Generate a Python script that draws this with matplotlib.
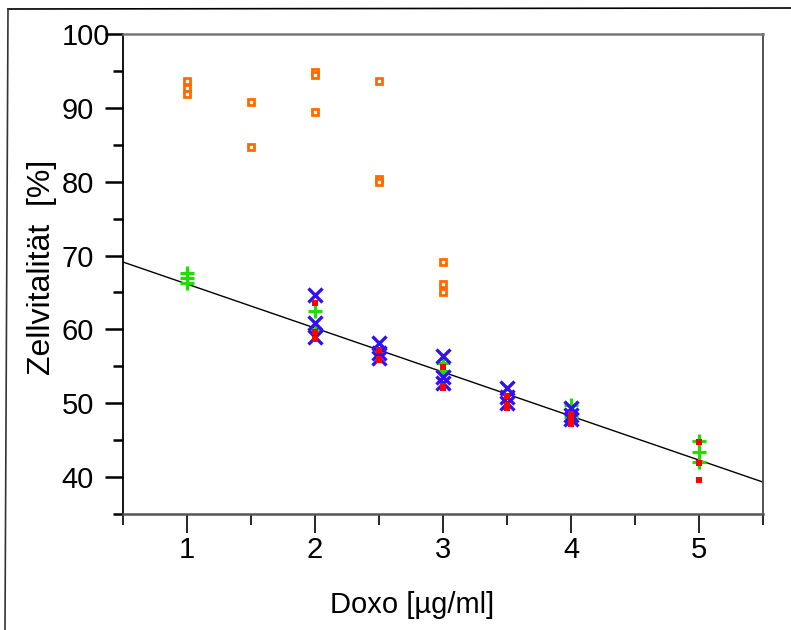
import matplotlib
matplotlib.use("Agg")
import matplotlib.pyplot as plt
import matplotlib.transforms as mtransforms
from matplotlib.lines import Line2D
import numpy as np

plt.rcParams['font.family'] = ['Liberation Sans', 'DejaVu Sans']

# ---- data ----
orange_x = [1, 1, 1, 1.5, 1.5, 2, 2, 2, 2.5, 2.5, 2.5, 3, 3, 3]
orange_y = [93.7, 92.7, 91.9, 90.8, 84.7, 94.8, 94.4, 89.4, 93.7, 80.3, 79.9, 69.1, 66.2, 65.1]

red_x = [2, 2, 2, 2.5, 2.5, 2.5, 3, 3, 3, 3.5, 3.5, 3.5, 4, 4, 4, 5, 5, 5]
red_y = [63.6, 59.7, 58.7, 57.2, 56.0, 55.8, 54.9, 52.4, 52.0, 51.0, 49.7, 49.4, 48.6, 47.8, 47.2, 44.7, 41.9, 39.6]

blue_x = [2, 2, 2, 2.5, 2.5, 2.5, 3, 3, 3, 3.5, 3.5, 3.5, 4, 4, 4]
blue_y = [64.6, 60.8, 59.0, 58.2, 56.8, 56.1, 56.4, 53.6, 52.8, 52.0, 50.9, 50.0, 49.3, 48.4, 47.8]

green_x = [1, 1, 1, 2, 2, 3, 3, 4, 4, 5, 5, 5]
green_y = [67.6, 67.0, 66.3, 62.5, 59.9, 55.5, 54.3, 49.8, 48.2, 44.9, 43.4, 42.1]

fit_slope = -5.96
fit_intercept = 72.1

x_major = [1, 2, 3, 4, 5]
y_major = [40, 50, 60, 70, 80, 90, 100]

# ---- figure ----
fig = plt.figure(figsize=(7.91, 6.30), dpi=100)
ax = fig.add_axes([123/791, 116/630, 640/791, 480/630])

xs = np.array([0.5, 5.5])
ax.plot(xs, fit_intercept + fit_slope * xs, color='black', lw=1.0, zorder=2)

ax.plot(orange_x, orange_y, ls='none', marker='s', ms=4.2, mew=2.0,
        mfc='white', mec='#FF6A00', zorder=3)
ax.plot(green_x, green_y, ls='none', marker='+', ms=10.5, mew=2.3,
        color='#22DD00', zorder=3)
ax.plot(blue_x, blue_y, ls='none', marker='x', ms=9.5, mew=2.4,
        color='#3311EE', zorder=4)
ax.plot(red_x, red_y, ls='none', marker='s', ms=4.3, mew=0,
        color='#FF0000', zorder=5)

ax.set_xlim(0.5, 5.5)
ax.set_ylim(35, 100)
ax.set_xticks(x_major)
ax.set_xticklabels([str(v) for v in x_major])
ax.set_xticks(np.arange(0.5, 5.6, 1.0), minor=True)
ax.set_yticks(y_major)
ax.set_yticklabels([str(v) for v in y_major])
ax.set_yticks(np.arange(35, 100, 10), minor=True)

ax.tick_params(axis='y', which='major', direction='out', length=13, width=1.8,
               pad=8, labelsize=21, color='black')
ax.tick_params(axis='y', which='minor', direction='out', length=7, width=1.8,
               color='black')
ax.tick_params(axis='x', which='major', direction='out', length=14, width=1.2,
               pad=2, labelsize=21, color='black')
ax.tick_params(axis='x', which='minor', direction='out', length=8, width=1.2,
               color='black')

ax.spines['left'].set_color('black')
ax.spines['left'].set_linewidth(1.3)
ax.spines['bottom'].set_color('#555555')
ax.spines['bottom'].set_linewidth(1.8)
ax.spines['top'].set_color('#777777')
ax.spines['top'].set_linewidth(1.8)
ax.spines['right'].set_color('#444444')
ax.spines['right'].set_linewidth(1.3)

# shift "100" label to the right (as in reference)
lab100 = ax.yaxis.get_major_ticks()[-1].label1
lab100.set_transform(lab100.get_transform() +
                     mtransforms.ScaledTranslation(16/100, 0, fig.dpi_scale_trans))

fig.text(42/791, (630-267)/630, 'Zellvitalität  [%]', rotation=90,
         ha='center', va='center', fontsize=23)
fig.text(412/791, (630-613)/630, 'Doxo [µg/ml]', ha='center', va='baseline',
         fontsize=21)

# outer frame lines
fig.add_artist(Line2D([8/791, 1.0], [1 - 9/630, 1 - 8/630], color='black', lw=1.2,
                      transform=fig.transFigure))
fig.add_artist(Line2D([8/791, 5/791], [1 - 9/630, 0.0], color='#333333', lw=1.2,
                      transform=fig.transFigure))

fig.savefig('out.png', dpi=100)
